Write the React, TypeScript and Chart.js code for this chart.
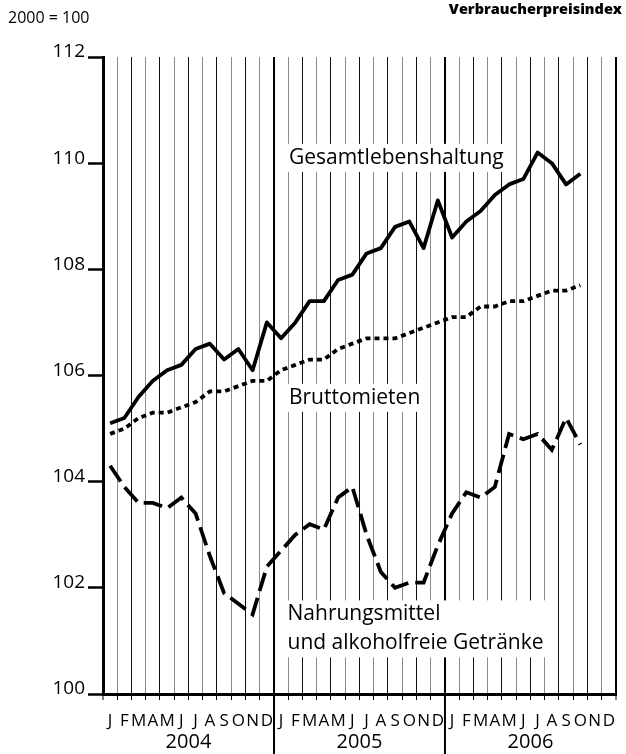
import React, { useEffect, useRef } from 'react';
import { Chart, registerables } from 'chart.js';

Chart.register(...registerables);

const MONTH_LETTERS = ['J', 'F', 'M', 'A', 'M', 'J', 'J', 'A', 'S', 'O', 'N', 'D'];
const YEARS = ['2004', '2005', '2006'];
const MONTH_LABELS = YEARS.flatMap(() => MONTH_LETTERS);
const Y_MIN = 100;
const Y_MAX = 112;
const Y_STEP = 2;

const GESAMT = [
  105.1, 105.2, 105.6, 105.9, 106.1, 106.2, 106.5, 106.6, 106.3, 106.5, 106.1, 107.0,
  106.7, 107.0, 107.4, 107.4, 107.8, 107.9, 108.3, 108.4, 108.8, 108.9, 108.4, 109.3,
  108.6, 108.9, 109.1, 109.4, 109.6, 109.7, 110.2, 110.0, 109.6, 109.8,
];
const BRUTTOMIETEN = [
  104.9, 105.0, 105.2, 105.3, 105.3, 105.4, 105.5, 105.7, 105.7, 105.8, 105.9, 105.9,
  106.1, 106.2, 106.3, 106.3, 106.5, 106.6, 106.7, 106.7, 106.7, 106.8, 106.9, 107.0,
  107.1, 107.1, 107.3, 107.3, 107.4, 107.4, 107.5, 107.6, 107.6, 107.7,
];
const NAHRUNG = [
  104.3, 103.9, 103.6, 103.6, 103.5, 103.7, 103.4, 102.6, 101.9, 101.7, 101.5, 102.4,
  102.7, 103.0, 103.2, 103.1, 103.7, 103.9, 103.0, 102.3, 102.0, 102.1, 102.1, 102.8,
  103.4, 103.8, 103.7, 103.9, 104.9, 104.8, 104.9, 104.6, 105.2, 104.7,
];

const SERIES_LABELS = [
  { lines: ['Gesamtlebenshaltung'], x: 13.05, y: 110.1 },
  { lines: ['Bruttomieten'], x: 13.05, y: 105.58 },
  { lines: ['Nahrungsmittel', 'und alkoholfreie Getränke'], x: 12.95, y: 101.5 },
];

const FONT = '"Open Sans", "Noto Sans", sans-serif';

const overlayPlugin = {
  id: 'overlay',
  afterDatasetsDraw(chart: any) {
    const { ctx, scales, chartArea } = chart;
    const ys = scales.y;
    const w = (chartArea.right - chartArea.left) / 36;
    const bx = (k: number) => chartArea.left + k * w;
    ctx.save();
    ctx.font = `21px ${FONT}`;
    ctx.textBaseline = 'middle';
    ctx.textAlign = 'left';
    const lh = 29;
    SERIES_LABELS.forEach((a) => {
      const left = bx(a.x);
      const top = ys.getPixelForValue(a.y);
      const widths = a.lines.map((l) => ctx.measureText(l).width);
      const tw = Math.max(...widths);
      ctx.fillStyle = '#fff';
      ctx.fillRect(left - 8, top - 14, tw + 16, (a.lines.length - 1) * lh + 28);
      ctx.fillStyle = '#000';
      a.lines.forEach((l, i) => ctx.fillText(l, left, top + i * lh));
    });
    ctx.restore();
  },
  afterDraw(chart: any) {
    const { ctx, scales, chartArea, width, height } = chart;
    const xs = scales.x;
    const w = (chartArea.right - chartArea.left) / 36;
    ctx.save();
    ctx.strokeStyle = '#000';
    ctx.lineWidth = 2;
    [12, 24].forEach((k) => {
      const x = chartArea.left + k * w;
      ctx.beginPath();
      ctx.moveTo(x, chartArea.bottom);
      ctx.lineTo(x, height);
      ctx.stroke();
    });
    ctx.fillStyle = '#000';
    ctx.font = `20px ${FONT}`;
    ctx.textAlign = 'center';
    ctx.textBaseline = 'middle';
    YEARS.forEach((y, i) => {
      ctx.fillText(y, xs.getPixelForValue(i * 12 + 5.5), 742);
    });
    ctx.font = `16px ${FONT}`;
    ctx.textAlign = 'left';
    ctx.fillText('2000 = 100', 8, 18);
    ctx.font = `800 14.5px ${FONT}`;
    ctx.textAlign = 'right';
    ctx.fillText('Verbraucherpreisindex', width - 4, 10);
    ctx.restore();
  },
};

export default function App() {
  const ref = useRef<HTMLCanvasElement>(null);
  useEffect(() => {
    if (!ref.current) return;
    const chart = new Chart(ref.current, {
      type: 'line',
      data: {
        labels: MONTH_LABELS,
        datasets: [
          {
            label: 'Gesamtlebenshaltung',
            data: GESAMT,
            borderColor: '#000',
            borderWidth: 3.8,
            pointRadius: 0,
            tension: 0,
            borderJoinStyle: 'round',
          },
          {
            label: 'Bruttomieten',
            data: BRUTTOMIETEN,
            borderColor: '#000',
            borderWidth: 3.8,
            borderDash: [5, 4],
            pointRadius: 0,
            tension: 0,
          },
          {
            label: 'Nahrungsmittel und alkoholfreie Getränke',
            data: NAHRUNG,
            borderColor: '#000',
            borderWidth: 3.8,
            borderDash: [19, 7],
            pointRadius: 0,
            tension: 0,
          },
        ],
      },
      options: {
        responsive: false,
        animation: false,
        devicePixelRatio: 1,
        layout: { padding: { top: 57, right: 1, left: 0, bottom: 0 } },
        plugins: { legend: { display: false }, tooltip: { enabled: false } },
        scales: {
          x: {
            type: 'category',
            offset: true,
            afterFit: (s: any) => { s.height = 60; },
            grid: {
              offset: true,
              drawOnChartArea: true,
              drawTicks: true,
              tickLength: 6,
              tickColor: '#000',
              tickWidth: 1,
              color: (c: any) => {
                const k = c.index ?? 36;
                if (k % 12 === 0) return '#000';
                return k % 2 ? '#8c8c8c' : '#111';
              },
              lineWidth: (c: any) => {
                const k = c.index ?? 36;
                return k % 12 === 0 ? 2 : 1;
              },
            },
            border: { display: true, color: '#000', width: 3 },
            ticks: {
              autoSkip: false,
              maxRotation: 0,
              minRotation: 0,
              color: '#000',
              padding: 11,
              font: { family: FONT, size: 17 },
            },
          },
          y: {
            min: Y_MIN,
            max: Y_MAX,
            afterFit: (s: any) => { s.width = 103; },
            grid: {
              drawOnChartArea: false,
              drawTicks: true,
              tickLength: 15,
              tickWidth: 2.5,
              tickColor: '#000',
            },
            border: { display: true, color: '#000', width: 3 },
            ticks: {
              stepSize: Y_STEP,
              color: '#000',
              padding: 3,
              labelOffset: -5,
              font: { family: FONT, size: 19 },
            },
          },
        },
      },
      plugins: [overlayPlugin],
    });
    return () => chart.destroy();
  }, []);
  return (
    <div style={{ position: 'absolute', left: 0, top: 0, width: 626, height: 754, background: '#fff' }}>
      <canvas ref={ref} width={626} height={754} style={{ display: 'block' }} />
    </div>
  );
}
